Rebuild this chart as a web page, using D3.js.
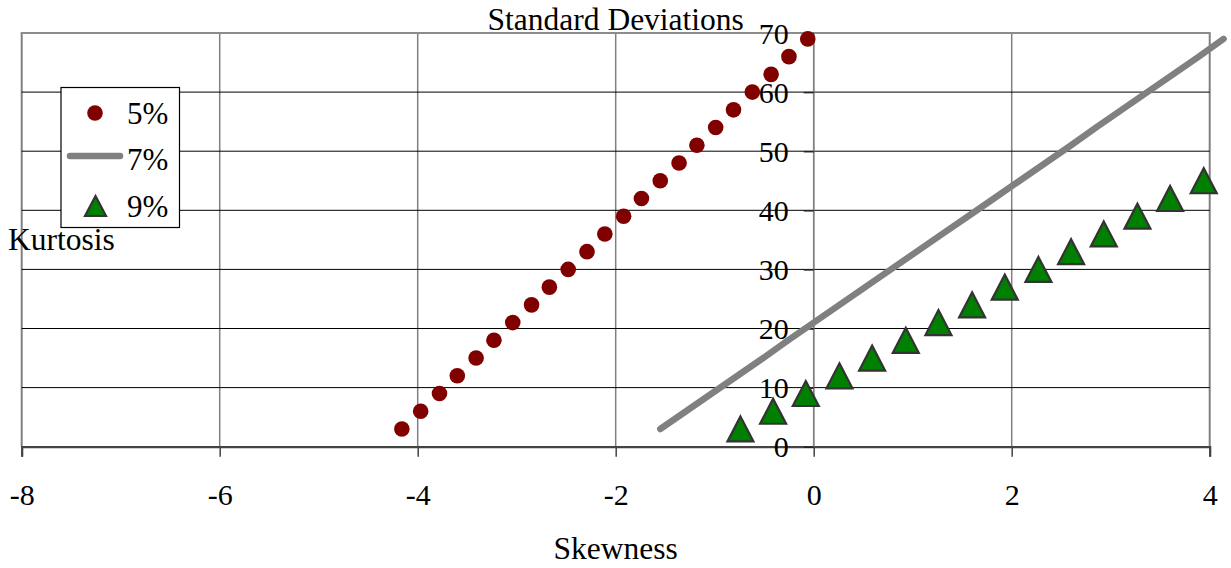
<!DOCTYPE html>
<html><head><meta charset="utf-8">
<script src="https://cdn.jsdelivr.net/npm/d3@7"></script>
<style>
html,body{margin:0;padding:0;background:#fff;}
svg text{font-family:"Liberation Serif","Times New Roman",serif;fill:#000;}
</style></head>
<body><svg id="c" width="1231" height="568"></svg>
<script>
// ---- data ----
const xTicks = [-8, -6, -4, -2, 0, 2, 4];
const yTicks = [0, 10, 20, 30, 40, 50, 60, 70];
const seriesNames = ["5%", "7%", "9%"];
const kurt5 = [3,6,9,12,15,18,21,24,27,30,33,36,39,42,45,48,51,54,57,60,63,66,69];
const skew5 = [-4.16,-3.97,-3.78,-3.60,-3.41,-3.23,-3.04,-2.85,-2.67,-2.48,-2.29,-2.11,-1.92,-1.74,-1.55,-1.36,-1.18,-0.99,-0.81,-0.62,-0.43,-0.25,-0.06];
const kurt7 = [3,6,9,12,15,18,21,24,27,30,33,36,39,42,45,48,51,54,57,60,63,66,69];
const skew7 = [-1.55,-1.29,-1.03,-0.77,-0.51,-0.26,0.00,0.26,0.52,0.78,1.04,1.30,1.56,1.82,2.08,2.34,2.60,2.85,3.11,3.37,3.63,3.89,4.14];
const kurt9 = [3,6,9,12,15,18,21,24,27,30,33,36,39,42,45];
const skew9 = [-0.74,-0.41,-0.08,0.26,0.59,0.93,1.26,1.60,1.93,2.27,2.60,2.93,3.27,3.60,3.94];

const svg = d3.select("#c");
const x = d3.scaleLinear().domain([-8, 4]).range([21.7, 1209.7]);
const y = d3.scaleLinear().domain([0, 70]).range([446.7, 33]);

// vertical gridlines
svg.append("g").selectAll("line").data(xTicks).join("line")
  .attr("x1", d => x(d)).attr("x2", d => x(d))
  .attr("y1", y(70)).attr("y2", y(0))
  .attr("stroke", "#808080").attr("stroke-width", d => (d === -8 || d === 4) ? 2 : 1.5);
// horizontal gridlines
svg.append("g").selectAll("line").data(yTicks.filter(d => d > 0 && d < 70)).join("line")
  .attr("x1", x(-8)).attr("x2", x(4))
  .attr("y1", d => y(d)).attr("y2", d => y(d))
  .attr("stroke", "#000").attr("stroke-width", 1);
// top frame
svg.append("line").attr("x1", x(-8) - 1).attr("x2", x(4) + 1)
  .attr("y1", y(70)).attr("y2", y(70))
  .attr("stroke", "#8c8c8c").attr("stroke-width", 2.2);

// x axis
const xAxis = d3.axisBottom(x).tickValues(xTicks).tickSize(10).tickPadding(27)
  .tickFormat(d => d < 0 ? "-" + Math.abs(d) : String(d));
const gx = svg.append("g").attr("transform", `translate(0,${y(0)})`).call(xAxis);
gx.select(".domain").attr("stroke", "#444").attr("stroke-width", 2.2);
gx.selectAll(".tick line").attr("stroke", "#444").attr("stroke-width", 1.5);
gx.selectAll(".tick text").attr("font-size", 30).attr("dy", "0.71em")
  .style("font-family", "'Liberation Serif', serif").attr("fill", "#000");

// y axis at x = 0
const yAxis = d3.axisLeft(y).tickValues(yTicks).tickSize(10).tickPadding(15);
const gy = svg.append("g").attr("transform", `translate(${x(0)},0)`).call(yAxis);
gy.select(".domain").attr("stroke", "#808080").attr("stroke-width", 1.5).attr("d", `M0,${y(70)}V${y(0)}`);
gy.selectAll(".tick line").attr("stroke", "#222").attr("stroke-width", 1.5);
gy.selectAll(".tick text").attr("font-size", 30).attr("dy", "0.34em")
  .style("font-family", "'Liberation Serif', serif").attr("fill", "#000");

// titles
svg.append("text").attr("x", (x(-8) + x(4)) / 2).attr("y", 30).attr("text-anchor", "middle")
  .attr("font-size", 31.5).text("Standard Deviations");
svg.append("text").attr("x", (x(-8) + x(4)) / 2).attr("y", 559).attr("text-anchor", "middle")
  .attr("font-size", 31.5).text("Skewness");
svg.append("text").attr("x", 8).attr("y", 250)
  .attr("font-size", 31.5).text("Kurtosis");

// series 5% : dots
const pts5 = skew5.map((s, i) => [s, kurt5[i]]);
svg.append("g").selectAll("circle").data(pts5).join("circle")
  .attr("cx", d => x(d[0])).attr("cy", d => y(d[1])).attr("r", 7.8)
  .attr("fill", "#800000");

// series 7% : line
const pts7 = skew7.map((s, i) => [s, kurt7[i]]);
svg.append("path").datum(pts7)
  .attr("d", d3.line().x(d => x(d[0])).y(d => y(d[1])))
  .attr("fill", "none").attr("stroke", "#808080").attr("stroke-width", 6.5)
  .attr("stroke-linecap", "round");

// series 9% : triangles
const tri = (hw, hh) => `M0,${-hh}L${hw},${hh}L${-hw},${hh}Z`;
const pts9 = skew9.map((s, i) => [s, kurt9[i]]);
svg.append("g").selectAll("path").data(pts9).join("path")
  .attr("transform", d => `translate(${x(d[0])},${y(d[1])})`)
  .attr("d", tri(13, 12.5))
  .attr("fill", "#008000").attr("stroke", "#333").attr("stroke-width", 2.2)
  .attr("stroke-linejoin", "miter");

// legend
const lg = svg.append("g");
lg.append("rect").attr("x", 61).attr("y", 87.5).attr("width", 118.5).attr("height", 140)
  .attr("fill", "#fff").attr("stroke", "#000").attr("stroke-width", 1.2);
const legRows = [113, 156, 206];
lg.append("circle").attr("cx", 95).attr("cy", legRows[0]).attr("r", 7.8).attr("fill", "#800000");
lg.append("line").attr("x1", 70).attr("x2", 120).attr("y1", legRows[1]).attr("y2", legRows[1])
  .attr("stroke", "#808080").attr("stroke-width", 6.5).attr("stroke-linecap", "round");
lg.append("path").attr("transform", `translate(95.5,${legRows[2]})`).attr("d", tri(10.5, 10))
  .attr("fill", "#008000").attr("stroke", "#333").attr("stroke-width", 2.2);
lg.selectAll("text").data(seriesNames).join("text")
  .attr("x", 127).attr("y", (d, i) => [124, 170, 217][i])
  .attr("font-size", 31).text(d => d);
</script></body></html>
